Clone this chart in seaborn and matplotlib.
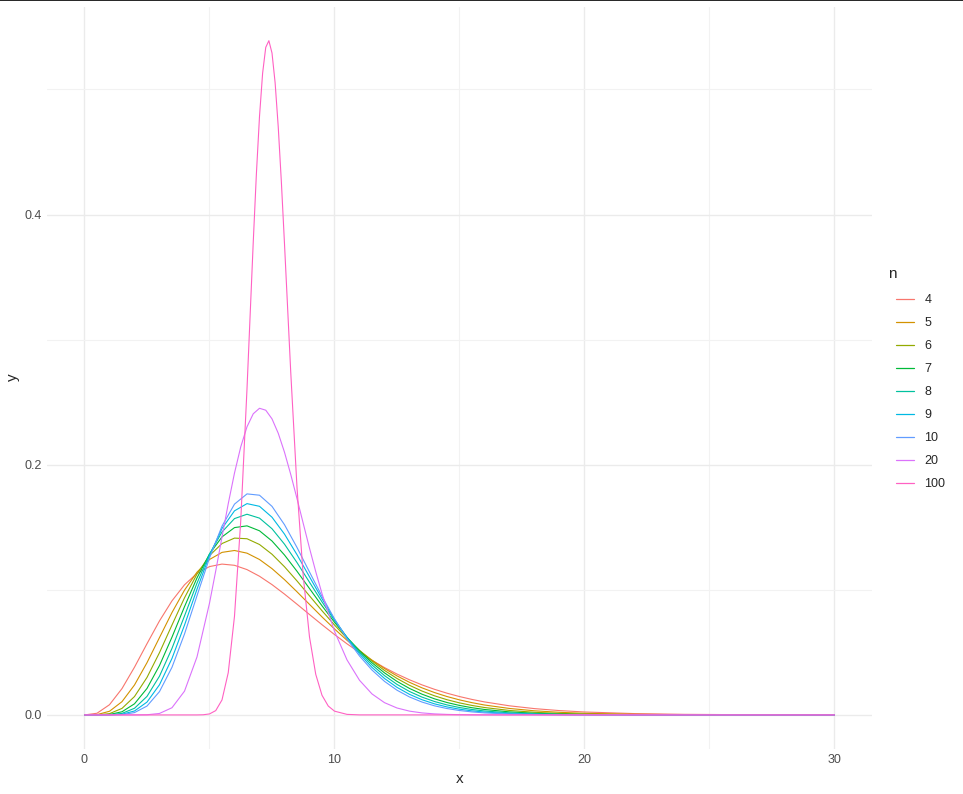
import numpy as np
import pandas as pd
import matplotlib
matplotlib.use("Agg")
import matplotlib.pyplot as plt
from matplotlib.ticker import MultipleLocator, FuncFormatter
from matplotlib.lines import Line2D
import seaborn as sns

# Density curves, one per sample size n
n_levels = ["4", "5", "6", "7", "8", "9", "10", "20", "100"]
palette = ["#F8766D", "#D39200", "#93AA00", "#00BA38", "#00C19F",
           "#00B9E3", "#619CFF", "#DB72FB", "#FF61C3"]

x_grid = [0, 0.5, 1, 1.5, 2, 2.5, 3, 3.5, 4, 4.5, 5, 5.5, 6, 6.5, 7, 7.5, 8,
          8.5, 9, 9.5, 10, 10.5, 11, 11.5, 12, 12.5, 13, 13.5, 14, 14.5, 15,
          15.5, 16, 17, 18, 19, 20, 22, 24, 27, 30]

y_n4 = [0, 0.00134, 0.00817, 0.02107, 0.03816, 0.05694, 0.07518, 0.09121,
        0.10402, 0.11315, 0.11858, 0.12058, 0.11961, 0.11618, 0.11086, 0.10418,
        0.09660, 0.08852, 0.08028, 0.07214, 0.06428, 0.05685, 0.04994, 0.04360,
        0.03785, 0.03268, 0.02809, 0.02403, 0.02048, 0.01738, 0.01470, 0.01239,
        0.01041, 0.00729, 0.00505, 0.00347, 0.00236, 0.00107, 0.00047, 0.00013,
        0.00004]
y_n5 = [0, 0.00026, 0.00293, 0.01061, 0.02395, 0.04177, 0.06186, 0.08186,
        0.09975, 0.11413, 0.12425, 0.12994, 0.13145, 0.12932, 0.12425, 0.11695,
        0.10815, 0.09844, 0.08838, 0.07837, 0.06873, 0.05967, 0.05134, 0.04381,
        0.03710, 0.03120, 0.02607, 0.02165, 0.01789, 0.01471, 0.01203, 0.00980,
        0.00794, 0.00517, 0.00331, 0.00210, 0.00131, 0.00050, 0.00019, 0.00004,
        0.00001]
y_n6 = [0, 0.00005, 0.00103, 0.00523, 0.01471, 0.02997, 0.04981, 0.07189,
        0.09360, 0.11263, 0.12738, 0.13700, 0.14135, 0.14085, 0.13624, 0.12846,
        0.11846, 0.10712, 0.09520, 0.08331, 0.07190, 0.06128, 0.05164, 0.04307,
        0.03558, 0.02914, 0.02368, 0.01909, 0.01529, 0.01217, 0.00963, 0.00758,
        0.00593, 0.00358, 0.00213, 0.00124, 0.00072, 0.00023, 0.00007, 0.00001, 0]
y_n7 = [0, 0.00001, 0.00036, 0.00254, 0.00890, 0.02119, 0.03951, 0.06220,
        0.08653, 0.10952, 0.12866, 0.14231, 0.14975, 0.15114, 0.14720, 0.13903,
        0.12785, 0.11484, 0.10103, 0.08725, 0.07410, 0.06200, 0.05117, 0.04171,
        0.03362, 0.02682, 0.02118, 0.01659, 0.01288, 0.00993, 0.00760, 0.00577,
        0.00436, 0.00245, 0.00134, 0.00072, 0.00038, 0.00010, 0.00003, 0, 0]
y_n8 = [0, 0, 0.00012, 0.00122, 0.00533, 0.01482, 0.03100, 0.05324, 0.07913,
        0.10535, 0.12856, 0.14624, 0.15695, 0.16043, 0.15732, 0.14884, 0.13650,
        0.12179, 0.10607, 0.09039, 0.07556, 0.06206, 0.05017, 0.03997, 0.03143,
        0.02441, 0.01875, 0.01426, 0.01073, 0.00801, 0.00593, 0.00435, 0.00317,
        0.00165, 0.00084, 0.00042, 0.00020, 0.00005, 0.00001, 0, 0]
y_n9 = [0, 0, 0.00004, 0.00058, 0.00316, 0.01028, 0.02413, 0.04520, 0.07178,
        0.10051, 0.12741, 0.14905, 0.16315, 0.16891, 0.16677, 0.15805, 0.14454,
        0.12811, 0.11044, 0.09289, 0.07641, 0.06161, 0.04878, 0.03799, 0.02914,
        0.02204, 0.01646, 0.01215, 0.00887, 0.00641, 0.00459, 0.00325, 0.00229,
        0.00111, 0.00052, 0.00024, 0.00011, 0.00002, 0, 0, 0]
y_n10 = [0, 0, 0.00001, 0.00027, 0.00187, 0.00709, 0.01866, 0.03812, 0.06469,
         0.09527, 0.12546, 0.15093, 0.16851, 0.17669, 0.17564, 0.16674, 0.15207,
         0.13389, 0.11426, 0.09484, 0.07677, 0.06076, 0.04712, 0.03587, 0.02684,
         0.01977, 0.01436, 0.01029, 0.00728, 0.00510, 0.00353, 0.00242, 0.00164,
         0.00074, 0.00032, 0.00014, 0.00006, 0.00001, 0, 0, 0]

# n = 20 and n = 100 are narrower, so they get their own finer x points
x_n20 = [0, 2, 2.5, 3, 3.5, 4, 4.5, 5, 5.25, 5.5, 5.75, 6, 6.25, 6.5, 6.75,
         7, 7.25, 7.5, 7.75, 8, 8.25, 8.5, 8.75, 9, 9.25, 9.5, 10, 10.5, 11,
         11.5, 12, 12.5, 13, 13.5, 14, 14.5, 15, 15.5, 16, 17, 30]
y_n20 = [0, 0.00001, 0.00014, 0.00119, 0.00577, 0.01900, 0.04636, 0.08933,
         0.11517, 0.14221, 0.16884, 0.19338, 0.21429, 0.23034, 0.24073,
         0.24512, 0.24360, 0.23668, 0.22515, 0.20999, 0.19224, 0.17295,
         0.15306, 0.13337, 0.11452, 0.09698, 0.06690, 0.04401, 0.02772,
         0.01679, 0.00981, 0.00555, 0.00304, 0.00162, 0.00084, 0.00043,
         0.00021, 0.00010, 0.00005, 0.00001, 0]

x_n100 = [0, 4.5, 4.75, 5, 5.25, 5.5, 5.75, 6, 6.25, 6.5, 6.75, 6.875, 7,
          7.125, 7.25, 7.375, 7.5, 7.625, 7.75, 7.875, 8, 8.25, 8.5, 8.75, 9,
          9.25, 9.5, 9.75, 10, 10.5, 11, 30]
y_n100 = [0, 0.00002, 0.00014, 0.00080, 0.00347, 0.01199, 0.03378, 0.07892,
          0.15526, 0.26065, 0.37794, 0.43222, 0.47837, 0.51301, 0.53363,
          0.53898, 0.52912, 0.50535, 0.46997, 0.42596, 0.37655, 0.27389,
          0.18189, 0.11088, 0.06234, 0.03247, 0.01573, 0.00712, 0.00302,
          0.00045, 0.00005, 0]

series = {"4": (x_grid, y_n4), "5": (x_grid, y_n5), "6": (x_grid, y_n6),
          "7": (x_grid, y_n7), "8": (x_grid, y_n8), "9": (x_grid, y_n9),
          "10": (x_grid, y_n10), "20": (x_n20, y_n20),
          "100": (x_n100, y_n100)}

frames = []
for n in n_levels:
    xs, ys = series[n]
    frames.append(pd.DataFrame({"x": xs, "y": ys, "n": n}))
df = pd.concat(frames, ignore_index=True)

sns.set_style("white")
plt.rcParams["font.family"] = ["Liberation Sans", "DejaVu Sans"]

fig = plt.figure(figsize=(9.63, 7.94), dpi=100)
ax = fig.add_axes([0.0488, 0.0571, 0.8567, 0.9345])

sns.lineplot(data=df, x="x", y="y", hue="n", hue_order=n_levels,
             palette=palette, estimator=None, sort=False, linewidth=0.8,
             legend=False, ax=ax)

ax.set_xlim(-1.5, 31.5)
ax.set_ylim(-0.02696, 0.56616)
ax.xaxis.set_major_locator(MultipleLocator(10))
ax.xaxis.set_minor_locator(MultipleLocator(5))
ax.yaxis.set_major_locator(MultipleLocator(0.2))
ax.yaxis.set_minor_locator(MultipleLocator(0.1))
ax.xaxis.set_major_formatter(FuncFormatter(lambda v, p: f"{v:.0f}"))
ax.yaxis.set_major_formatter(FuncFormatter(lambda v, p: f"{v:.1f}"))
ax.grid(which="major", color="#EBEBEB", linewidth=1.0)
ax.grid(which="minor", color="#F2F2F2", linewidth=0.8)
ax.set_axisbelow(True)
for s in ax.spines.values():
    s.set_visible(False)
ax.tick_params(which="both", length=0, labelsize=9, labelcolor="#4D4D4D", pad=4)
ax.set_xlabel("x", fontsize=11, labelpad=4)
ax.set_ylabel("y", fontsize=11, labelpad=3)

# legend: keys in the ggplot hue colours, title set a little left of the keys
handles = [Line2D([], [], color=c, linewidth=0.9) for c in palette]
ax.legend(handles, n_levels, loc="upper left",
          bbox_to_anchor=(0.9243, 0.6375), bbox_transform=fig.transFigure,
          frameon=False, fontsize=9, handlelength=1.4,
          handletextpad=0.85, labelspacing=0.88, borderpad=0)
fig.text(0.9225, 0.655, "n", fontsize=11, ha="left", va="center")

# thin dark rule along the top edge, as in the source image
fig.add_artist(Line2D([0, 1], [0.9994, 0.9994], color="black",
                      linewidth=1.2, transform=fig.transFigure))

fig.savefig("out.png", dpi=100)
